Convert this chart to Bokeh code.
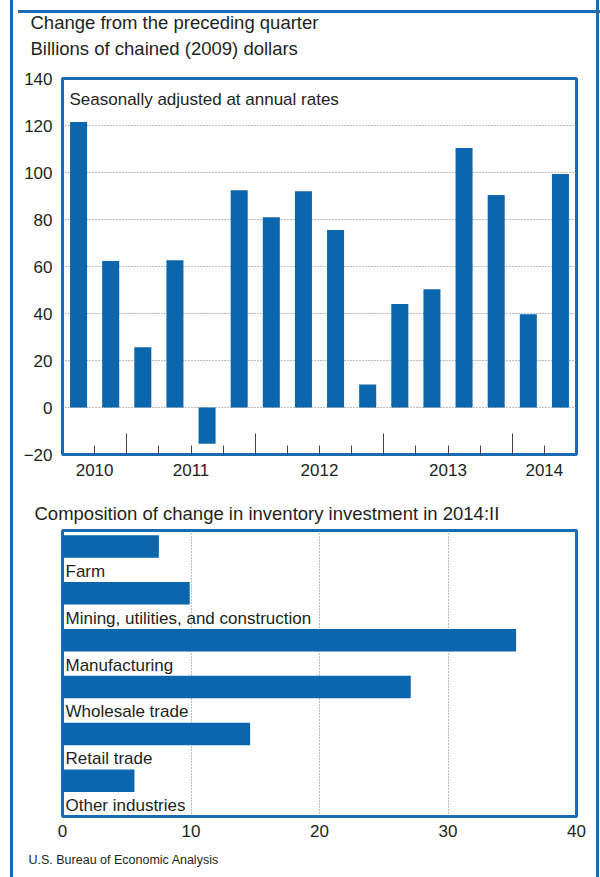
from bokeh.plotting import figure
from bokeh.models import ColumnDataSource, Range1d, FixedTicker, Label, Title, Div
from bokeh.layouts import column
from bokeh.embed import file_html
from bokeh.resources import INLINE
from bokeh.core.properties import value

# ---------------- data ----------------
quarters = ["2010:III", "2010:IV", "2011:I", "2011:II", "2011:III", "2011:IV",
            "2012:I", "2012:II", "2012:III", "2012:IV", "2013:I", "2013:II",
            "2013:III", "2013:IV", "2014:I", "2014:II"]
changes = [121.5, 62.3, 25.6, 62.7, -15.4, 92.5, 81.0, 92.0,
           75.5, 9.8, 44.0, 50.3, 110.4, 90.4, 39.7, 99.4]
years = ["2010", "2011", "2012", "2013", "2014"]
quarters_per_year = [2, 4, 4, 4, 2]
y_ticks = [-20, 0, 20, 40, 60, 80, 100, 120, 140]

industries = ["Farm", "Mining, utilities, and construction", "Manufacturing",
              "Wholesale trade", "Retail trade", "Other industries"]
contributions = [7.5, 9.9, 35.3, 27.1, 14.6, 5.6]
x_ticks = [0, 10, 20, 30, 40]

# ---------------- styles ----------------
BLUE = "#0b66ad"
FRAME = "#1a6bb3"
TXT = "#231f20"
FONT = "Liberation Sans"
FS = "17px"
TFS = "18.5px"

# ---------------- top chart ----------------
n = len(quarters)
bounds = [0]
for c in quarters_per_year:
    bounds.append(bounds[-1] + c)
year_centers = [(bounds[i] + bounds[i + 1]) / 2 for i in range(len(years))]
year_bounds = bounds[1:-1]
short_ticks = [k for k in range(1, n) if k not in year_bounds]
overrides = {k: "" for k in short_ticks}
for yc, yl in zip(year_centers, years):
    overrides[int(yc)] = yl

src1 = ColumnDataSource(dict(x=[i + 0.5 for i in range(n)], top=changes, q=quarters))

p1 = figure(width=583, height=504, x_range=Range1d(0, n), y_range=Range1d(y_ticks[0], y_ticks[-1]),
            output_backend="svg", toolbar_location=None,
            min_border_left=49, min_border_right=18, min_border_top=89, min_border_bottom=39)
p1.background_fill_color = "white"
p1.border_fill_color = None
p1.outline_line_color = FRAME
p1.outline_line_width = 3

p1.vbar(x="x", top="top", bottom=0, width=0.53, source=src1, fill_color=BLUE, line_color=None)

p1.ygrid.ticker = FixedTicker(ticks=y_ticks[1:-1])
p1.ygrid.grid_line_color = "#7a7a7a"
p1.ygrid.grid_line_dash = "1 2"
p1.ygrid.grid_line_width = 1
p1.xgrid.grid_line_color = None

ya = p1.yaxis[0]
ya.ticker = FixedTicker(ticks=y_ticks)
ya.major_label_overrides = {-20: "\u221220"}
ya.axis_line_color = None
ya.major_tick_line_color = None
ya.minor_tick_line_color = None
ya.major_label_standoff = 4
ya.major_label_text_font = FONT
ya.major_label_text_font_size = FS
ya.major_label_text_color = TXT

xa = p1.xaxis[0]
xa.ticker = FixedTicker(ticks=short_ticks, minor_ticks=year_bounds)
xa.major_label_overrides = overrides
xa.axis_line_color = None
xa.major_tick_in = 9
xa.major_tick_out = 0
xa.minor_tick_in = 21
xa.minor_tick_out = 0
xa.major_tick_line_color = "#444444"
xa.minor_tick_line_color = "#444444"
xa.major_label_standoff = 9
xa.major_label_text_font = FONT
xa.major_label_text_font_size = FS
xa.major_label_text_color = TXT

p1.add_layout(Title(text="Change from the preceding quarter\nBillions of chained (2009) dollars",
                    align="left", offset=-32, standoff=39, text_line_height=1.23,
                    text_font=FONT, text_font_size=TFS,
                    text_font_style="normal", text_color=TXT), "above")
p1.add_layout(Label(x=0, y=y_ticks[-1], x_offset=7, y_offset=-21,
                    text="Seasonally adjusted at annual rates", text_font=FONT,
                    text_font_size=FS, text_color=TXT, text_baseline="alphabetic"))

# ---------------- bottom chart ----------------
m = len(industries)
src2 = ColumnDataSource(dict(y=[i + 0.34 for i in range(m)], right=contributions,
                             ly=[i + 0.87 for i in range(m)], lx=[0] * m, name=industries))

p2 = figure(width=583, height=384, x_range=Range1d(x_ticks[0], x_ticks[-1]), y_range=Range1d(6.1, 0),
            output_backend="svg", toolbar_location=None, y_axis_location=None,
            min_border_left=47, min_border_right=20, min_border_top=37, min_border_bottom=61)
p2.background_fill_color = "white"
p2.border_fill_color = "white"
p2.outline_line_color = FRAME
p2.outline_line_width = 3

p2.xgrid.ticker = FixedTicker(ticks=x_ticks[1:-1])
p2.xgrid.grid_line_color = "#7a7a7a"
p2.xgrid.grid_line_dash = "1 2"
p2.ygrid.grid_line_color = None

p2.hbar(y="y", right="right", left=0, height=0.48, source=src2, fill_color=BLUE, line_color=None)
p2.text(x="lx", y="ly", text="name", source=src2, x_offset=3, text_baseline="alphabetic",
        text_font=value(FONT), text_font_size=FS, text_color=TXT)

xb = p2.xaxis[0]
xb.ticker = FixedTicker(ticks=x_ticks)
xb.axis_line_color = None
xb.major_tick_line_color = None
xb.minor_tick_line_color = None
xb.major_label_standoff = 2
xb.major_label_text_font = FONT
xb.major_label_text_font_size = FS
xb.major_label_text_color = TXT

p2.add_layout(Title(text="Composition of change in inventory investment in 2014:II", align="left",
                    offset=-28, standoff=13, text_font=FONT, text_font_size=TFS,
                    text_font_style="normal", text_color=TXT), "above")
p2.add_layout(Title(text="U.S. Bureau of Economic Analysis", align="left", offset=-34, standoff=22,
                    text_font="'Liberation Sans Narrow', 'Liberation Sans'",
                    text_font_size="12.5px", text_font_style="normal", text_color=TXT), "below")

top_rule = Div(text="", width=583, height=3, styles={
    "background-color": FRAME,
    "position": "absolute",
    "top": "16px",
    "left": "0px",
    "z-index": "10",
})

layout = column(p1, p2, top_rule, spacing=0, styles={
    "position": "relative",
    "border-left": "3px solid " + FRAME,
    "border-right": "3px solid " + FRAME,
    "margin-left": "10px",
    "margin-top": "-11px",
    "background-color": "white",
})

open("out.html", "w").write(file_html(layout, INLINE))
